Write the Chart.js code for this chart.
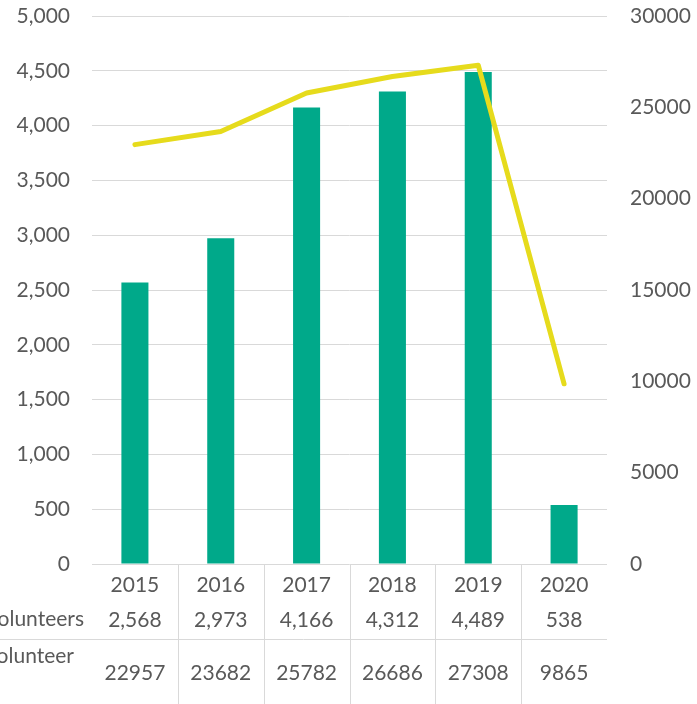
<!DOCTYPE html>
<html><head><meta charset="utf-8">
<style>html,body{margin:0;padding:0;background:#fff;overflow:hidden}#wrap{width:697px;height:704px;position:relative}</style>
<script src="https://cdn.jsdelivr.net/npm/chart.js@4"></script>
</head><body><div id="wrap"><canvas id="c" width="697" height="704"></canvas></div>
<script>
const years = ['2015', '2016', '2017', '2018', '2019', '2020'];
const volunteers = [2568, 2973, 4166, 4312, 4489, 538];
const hoursPerVolunteer = [22957, 23682, 25782, 26686, 27308, 9865];
const rowLabels = ['Volunteers', 'Hours per Volunteer'];
const leftMax = 5000, leftStep = 500;
const rightMax = 30000, rightStep = 5000;

const FONT = 'Lato, "Open Sans", sans-serif';
const FS = 21;
const TXT = '#595959';
const GRID = '#d9d9d9';

const tablePlugin = {
  id: 'dataTable',
  afterDraw(chart) {
    const ctx = chart.ctx, x = chart.scales.x, ca = chart.chartArea;
    const n = years.length;
    const cw = (ca.right - ca.left) / n;
    ctx.save();
    ctx.strokeStyle = GRID; ctx.lineWidth = 1;
    ctx.beginPath();
    for (let i = 1; i < n; i++) {
      const bx = Math.round(ca.left + cw * i) + 0.5;
      ctx.moveTo(bx, ca.bottom); ctx.lineTo(bx, chart.height);
    }
    ctx.moveTo(0, ca.bottom + 75.5); ctx.lineTo(ca.right, ca.bottom + 75.5);
    ctx.stroke();
    ctx.fillStyle = TXT;
    ctx.font = FS + 'px ' + FONT;
    ctx.textBaseline = 'middle';
    ctx.textAlign = 'center';
    for (let i = 0; i < n; i++) {
      const cx = x.getPixelForValue(i);
      ctx.fillText(volunteers[i].toLocaleString('en-US'), cx, ca.bottom + 56);
      ctx.fillText(String(hoursPerVolunteer[i]), cx, ca.bottom + 109);
    }
    ctx.textAlign = 'right';
    ctx.fillText(rowLabels[0], 84, ca.bottom + 55);
    ctx.fillText('Hours per Volunteer', 74, ca.bottom + 92);
    ctx.restore();
  }
};

new Chart(document.getElementById('c'), {
  data: {
    labels: years,
    datasets: [
      { type: 'line', label: rowLabels[1], data: hoursPerVolunteer, yAxisID: 'y1',
        borderColor: '#e6db1c', borderWidth: 5, pointRadius: 0, tension: 0,
        borderCapStyle: 'round', borderJoinStyle: 'round', order: 0 },
      { type: 'bar', label: rowLabels[0], data: volunteers, yAxisID: 'y',
        backgroundColor: '#00a98a', barPercentage: 0.315, categoryPercentage: 1, order: 1 }
    ]
  },
  options: {
    responsive: false, animation: false,
    layout: { padding: { top: 16, left: 0, right: 0, bottom: 0 } },
    plugins: { legend: { display: false }, tooltip: { enabled: false } },
    scales: {
      x: {
        grid: { display: false }, border: { display: false },
        ticks: { color: TXT, font: { family: FONT, size: FS }, padding: 1, maxRotation: 0 },
        afterFit(s) { s.height = 140; }
      },
      y: {
        position: 'left', min: 0, max: leftMax,
        grid: { color: GRID, drawTicks: false }, border: { display: false },
        ticks: { stepSize: leftStep, color: TXT, font: { family: FONT, size: FS }, padding: 22,
          callback: v => v.toLocaleString('en-US') },
        afterFit(s) { s.width = 92; s.paddingTop = 0; s.paddingBottom = 0; }
      },
      y1: {
        position: 'right', min: 0, max: rightMax,
        grid: { display: false, drawTicks: false }, border: { display: false },
        ticks: { stepSize: rightStep, color: TXT, font: { family: FONT, size: FS }, padding: 23,
          callback: v => String(v) },
        afterFit(s) { s.width = 90; s.paddingTop = 0; s.paddingBottom = 0; }
      }
    }
  },
  plugins: [tablePlugin]
});
</script></body></html>
